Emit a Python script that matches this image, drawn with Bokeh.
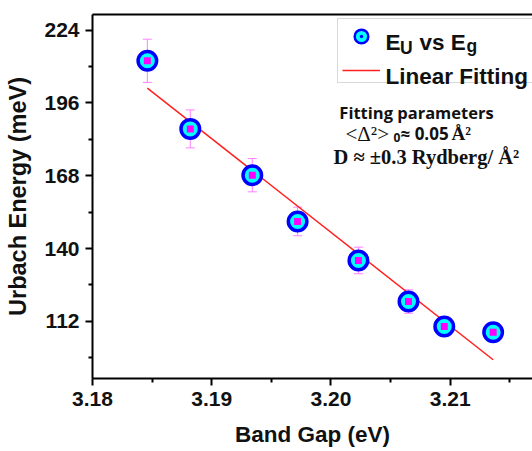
from bokeh.plotting import figure
from bokeh.models import (Range1d, FixedTicker, LinearAxis, Whisker, ColumnDataSource,
                          Label, BoxAnnotation, Legend, LegendItem, PrintfTickFormatter, TeeHead)
from bokeh.embed import file_html
from bokeh.resources import INLINE

# ---- data ----
band_gap = [3.1846, 3.1882, 3.1934, 3.1972, 3.2023, 3.2065, 3.2095, 3.2136]
urbach = [212.2, 186.0, 168.2, 150.4, 135.4, 119.6, 110.0, 107.8]
urbach_err = [8.3, 7.3, 6.4, 5.5, 5.1, 4.5, 3.8, 3.5]
fit_x = [3.1846, 3.2136]
fit_y = [201.7, 97.2]
x_ticks = [3.18, 3.19, 3.20, 3.21]
x_minor = [3.185, 3.195, 3.205, 3.215]
y_ticks = [112, 140, 168, 196, 224]
y_minor = [98, 126, 154, 182, 210]

FRAME_L, FRAME_B = 92, 378  # frame left / bottom in page pixels


def sx(px):
    return px - FRAME_L


def sy(py):
    return FRAME_B - py


src = ColumnDataSource(dict(
    x=band_gap, y=urbach,
    upper=[v + e for v, e in zip(urbach, urbach_err)],
    lower=[v - e for v, e in zip(urbach, urbach_err)],
))

p = figure(width=532, height=451, x_range=Range1d(3.18, 3.2169), y_range=Range1d(90, 230),
           output_backend="svg", toolbar_location=None,
           min_border_left=92, min_border_right=0, min_border_top=14, min_border_bottom=73)
p.outline_line_color = None
p.background_fill_color = "white"
p.border_fill_color = "white"
p.xgrid.visible = False
p.ygrid.visible = False

for ax in (p.xaxis[0], p.yaxis[0]):
    ax.axis_line_width = 2
    ax.axis_line_color = "black"
    ax.major_tick_line_width = 2
    ax.minor_tick_line_width = 2
    ax.major_tick_out = 7
    ax.major_tick_in = 0
    ax.minor_tick_out = 4
    ax.minor_tick_in = 0
    ax.major_label_text_font = "Liberation Sans"
    ax.major_label_text_font_style = "bold"
    ax.major_label_text_font_size = "21px"
    ax.major_label_text_color = "#111111"
    ax.axis_label_text_font = "Liberation Sans"
    ax.axis_label_text_font_style = "bold"
    ax.axis_label_text_color = "#111111"

p.xaxis[0].ticker = FixedTicker(ticks=x_ticks, minor_ticks=x_minor)
p.xaxis[0].formatter = PrintfTickFormatter(format="%.2f")
p.xaxis[0].axis_label = "Band Gap (eV)"
p.xaxis[0].axis_label_text_font_size = "22.5px"
p.xaxis[0].major_label_standoff = 6
p.xaxis[0].axis_label_standoff = 13

p.yaxis[0].ticker = FixedTicker(ticks=y_ticks, minor_ticks=y_minor)
p.yaxis[0].axis_label = "Urbach Energy (meV)"
p.yaxis[0].axis_label_text_font_size = "23.5px"
p.yaxis[0].major_label_standoff = 6
p.yaxis[0].axis_label_standoff = 10

top_axis = LinearAxis(axis_line_width=2, axis_line_color="black",
                      major_tick_line_color=None, minor_tick_line_color=None,
                      major_label_text_font_size="0px")
top_axis.ticker = FixedTicker(ticks=[])
p.add_layout(top_axis, "above")

# fit line
fit_r = p.line(fit_x, fit_y, line_color="#ff2020", line_width=1.5)

# data markers
p.scatter("x", "y", source=src, marker="circle", size=18.5, fill_color="#00ffff",
          line_color="#0000ff", line_width=3.5)
p.scatter("x", "y", source=src, marker="square", size=7, fill_color="#ff00ff", line_color=None)

err_col = "#ff80ff"
p.add_layout(Whisker(source=src, base="x", upper="upper", lower="lower",
                     line_color=err_col, line_width=1,
                     upper_head=TeeHead(size=9, line_color=err_col, line_width=1),
                     lower_head=TeeHead(size=9, line_color=err_col, line_width=1)))

# legend marker renderer (hidden in plot, drawn only by the legend)
leg_r = p.scatter("x", "y", source=src, marker="circle_dot", fill_color="#00ffff",
                  line_color="#0000ff", line_width=2.5, visible=False)

# legend box
p.add_layout(BoxAnnotation(left=sx(337), right=sx(600), bottom=sy(82), top=sy(18),
                           left_units="screen", right_units="screen",
                           bottom_units="screen", top_units="screen",
                           fill_color="white", fill_alpha=1.0,
                           line_color="#808080", line_width=1))

legend = Legend(items=[LegendItem(label=" ", renderers=[leg_r]),
                       LegendItem(label=" ", renderers=[fit_r])],
                location=(sx(342), sy(86.5)), glyph_width=38, glyph_height=34,
                spacing=0, padding=0, margin=0, label_standoff=0,
                label_text_font_size="1px", label_height=1, label_width=1,
                border_line_color=None, background_fill_alpha=0)
p.add_layout(legend)


def lab(px, py, text, font="Liberation Sans", size="22px", style="bold", align="left"):
    p.add_layout(Label(x=sx(px), y=sy(py), x_units="screen", y_units="screen", text=text,
                       text_font=font, text_font_size=size, text_font_style=style,
                       text_baseline="alphabetic", text_align=align, text_color="#111111"))


# legend texts
lab(385, 42, "E", size="22.5px")
lab(399.5, 47, "U", size="17.5px")
lab(419, 42, "vs E", size="22.5px")
lab(466, 45, "g", size="17.5px")
lab(385, 76, "Linear Fitting", size="22.5px")

# fitting parameter texts
lab(416, 112, "Fitting parameters", font="Open Sans", size="16.5px", align="center")
lab(345, 133, "<Δ²>", font="Liberation Serif", size="21px", style="normal")
lab(393, 137, "0", font="Open Sans", size="12px")
lab(400, 133, "≈ 0.05", font="Open Sans", size="17px")
lab(451, 133, "Å²", font="Liberation Serif", size="19px")
lab(333, 156, "D ≈ ±0.3 Rydberg/ Å²", font="Liberation Serif", size="20.5px")

open("out.html", "w").write(file_html(p, INLINE))
